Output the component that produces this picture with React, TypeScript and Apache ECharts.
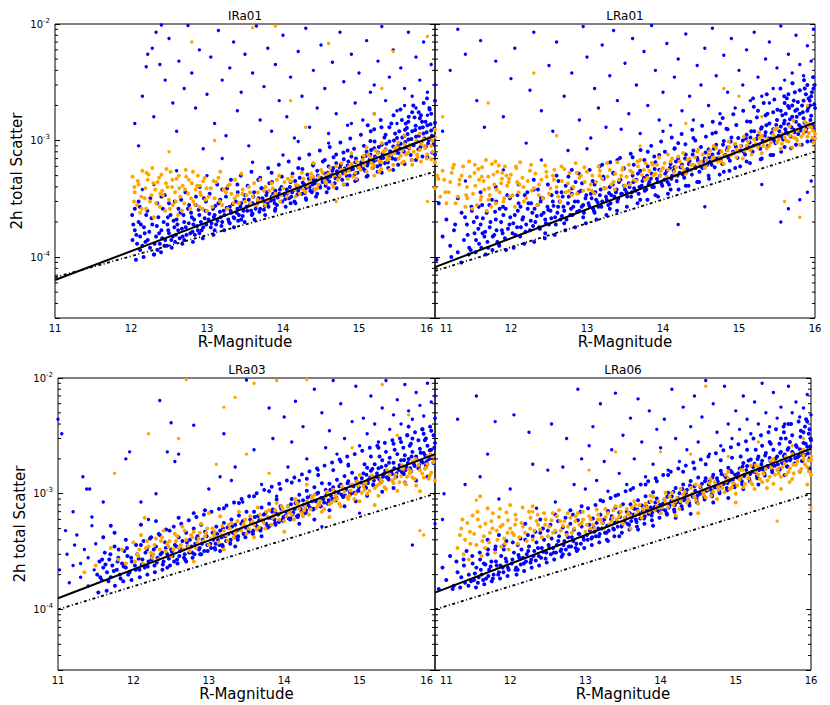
import React, { useEffect, useRef } from "react";
import * as echarts from "echarts";

// y values are in units of 1e-4; flat arrays of (R-magnitude, scatter) pairs
const IRa01_blue = [
12.02,1.4,12.05,1.7,12.08,1.3,12.1,2.0,12.12,1.5,12.15,1.25,12.17,1.8,12.2,2.3,12.05,2.6,12.12,1.15,12.18,1.6,12.22,1.4,12.25,1.2,12.28,1.9,12.3,1.05,12.1,3.0,12.03,1.9,
12.33,1.5,12.36,2.2,12.38,1.3,12.4,1.7,12.42,2.6,12.45,1.4,12.48,1.9,12.5,1.6,12.52,2.3,12.55,1.5,12.57,1.8,12.6,2.1,12.35,1.15,12.44,1.25,12.58,1.35,12.5,2.9,12.4,3.3,
12.62,1.7,12.65,2.4,12.68,1.5,12.7,2.0,12.72,1.8,12.75,2.6,12.78,1.6,12.8,2.2,12.82,1.9,12.85,2.8,12.88,1.7,12.9,2.3,12.92,2.0,12.95,1.8,12.98,2.5,12.7,1.4,12.84,1.55,12.96,3.2,12.66,3.1,12.9,1.6,
13.02,2.1,13.05,1.8,13.08,2.6,13.1,2.3,13.12,1.9,13.15,2.9,13.18,2.2,13.2,2.0,13.22,2.5,13.25,3.3,13.28,2.1,13.3,2.7,13.32,2.4,13.35,2.2,13.38,3.0,13.4,2.6,13.42,2.3,13.45,2.9,13.48,2.5,13.5,3.4,13.1,1.7,13.3,1.95,13.45,2.1,13.2,3.8,13.4,4.2,
13.52,2.7,13.55,3.1,13.58,2.5,13.6,2.9,13.62,3.6,13.65,2.8,13.68,3.2,13.7,2.6,13.72,3.9,13.75,3.0,13.78,3.4,13.8,2.9,13.82,4.3,13.85,3.3,13.88,3.1,13.9,3.7,13.92,2.8,13.95,3.5,13.98,4.0,13.6,2.35,13.75,2.55,13.9,2.6,13.7,4.8,13.85,5.3,
14.02,3.4,14.05,3.8,14.08,3.2,14.1,4.4,14.12,3.6,14.15,3.0,14.18,4.1,14.2,3.7,14.22,4.8,14.25,3.5,14.28,4.2,14.3,3.9,14.32,5.1,14.35,4.0,14.38,3.6,14.4,4.6,14.42,4.3,14.45,5.5,14.48,4.1,14.5,4.8,14.1,2.9,14.3,3.2,14.45,3.5,14.2,5.8,14.4,6.3,
14.52,4.4,14.55,5.2,14.58,4.7,14.6,6.0,14.62,4.9,14.65,5.5,14.68,4.3,14.7,6.4,14.72,5.1,14.75,5.8,14.78,4.6,14.8,6.9,14.82,5.4,14.85,6.1,14.88,5.0,14.9,7.3,14.92,5.7,14.95,6.5,14.98,5.3,14.6,3.9,14.8,4.2,14.95,4.5,14.7,7.6,14.85,8.2,14.55,6.8,
15.02,6.0,15.05,7.2,15.08,5.5,15.1,8.0,15.12,6.4,15.15,7.6,15.18,5.8,15.2,8.6,15.22,6.8,15.25,7.9,15.28,6.2,15.3,9.2,15.32,7.1,15.35,8.4,15.38,6.5,15.4,9.8,15.42,7.4,15.45,8.9,15.48,6.9,15.5,10.5,15.1,4.9,15.3,5.3,15.45,5.6,15.15,9.9,15.35,11.2,15.2,12.5,15.4,13,
15.52,7.8,15.55,9.4,15.58,8.2,15.6,11.0,15.62,8.8,15.65,10.2,15.68,7.5,15.7,12.0,15.72,9.1,15.75,10.8,15.78,8.4,15.8,12.8,15.82,9.6,15.85,11.5,15.88,8.9,15.9,13.5,15.92,10.1,15.95,12.2,15.98,9.3,16.0,14.2,16.02,10.6,16.05,12.9,15.6,6.3,15.75,6.8,15.9,7.2,16.0,7.6,15.65,14.5,15.8,15.5,15.95,17,16.05,19,15.7,17.5,15.85,21,16.0,22,
];
const IRa01_blue2 = [
12.07,1.55,12.13,1.9,12.19,1.35,12.24,1.65,12.27,2.15,12.31,1.3,12.34,1.85,12.37,1.6,12.41,1.45,12.43,2.0,12.47,1.25,12.49,1.7,12.53,1.4,12.56,2.05,12.59,1.55,12.61,1.9,12.64,1.45,12.67,1.75,12.69,2.3,12.73,1.55,12.76,1.95,12.79,2.4,12.81,1.65,12.83,2.1,12.87,1.85,12.89,2.55,12.93,1.7,12.97,2.15,12.99,1.9,
13.03,2.35,13.06,1.95,13.09,2.2,13.11,2.75,13.14,2.05,13.17,2.45,13.19,1.85,13.23,2.3,13.26,2.65,13.29,2.0,13.31,2.5,13.34,2.85,13.36,2.15,13.39,2.4,13.41,2.05,13.44,2.7,13.47,2.25,13.49,3.1,13.53,2.5,13.56,2.8,13.59,2.3,13.61,3.3,13.64,2.6,13.67,2.95,13.69,2.45,13.73,3.2,13.76,2.75,13.79,3.6,13.81,2.7,13.84,3.05,13.87,3.5,13.89,2.9,13.93,3.25,13.96,3.8,13.99,3.0,
14.03,3.15,14.06,3.55,14.09,4.0,14.11,3.3,14.14,3.75,14.16,4.5,14.19,3.45,14.23,3.95,14.26,4.35,14.29,3.55,14.31,4.05,14.34,4.7,14.36,3.7,14.39,4.2,14.41,3.8,14.44,4.55,14.46,5.0,14.49,3.95,14.53,4.6,14.56,4.1,14.59,5.3,14.61,4.45,14.64,5.05,14.66,5.8,14.69,4.75,14.71,5.45,14.74,4.9,14.76,6.2,14.79,5.25,14.81,5.75,14.84,4.95,14.86,6.6,14.89,5.6,14.91,6.0,14.94,5.1,14.96,7.0,14.99,5.9,
15.03,6.5,15.06,5.7,15.09,7.4,15.11,6.1,15.14,6.9,15.16,8.3,15.19,6.6,15.21,7.3,15.24,6.0,15.26,8.8,15.29,7.0,15.31,7.7,15.34,6.4,15.36,9.4,15.39,7.5,15.41,8.1,15.44,7.0,15.46,10.0,15.49,7.9,15.51,9.0,15.54,8.5,15.57,10.6,15.59,8.0,15.61,9.7,15.64,11.4,15.66,8.6,15.69,10.3,15.71,9.2,15.74,12.3,15.76,9.8,15.79,11.0,15.81,8.8,15.84,13.0,15.86,10.4,15.89,11.8,15.91,9.5,15.94,13.8,15.96,11.0,15.99,12.6,16.01,15.0,16.04,11.8,16.06,14.0,15.63,12.8,15.83,14.5,16.03,16.5,15.73,15.8,15.93,18.5,15.53,12.0,
];
const IRa01_blue3 = [
12.015,2.3,12.065,0.95,12.115,2.7,12.165,1.0,12.215,2.5,12.255,3.2,12.305,1.05,12.345,2.9,12.395,1.1,12.445,3.4,12.485,2.2,12.535,1.2,12.575,3.0,12.625,2.6,12.675,1.3,12.715,3.6,12.765,2.8,12.815,1.35,12.855,3.3,12.905,4.0,12.945,1.45,12.985,3.0,
13.035,3.5,13.085,1.55,13.135,4.2,13.175,3.1,13.225,1.7,13.265,3.9,13.315,4.6,13.355,1.8,13.405,3.6,13.445,5.0,13.495,2.0,13.535,4.1,13.585,5.4,13.625,2.1,13.675,4.6,13.715,3.9,13.765,2.3,13.805,5.8,13.855,4.4,13.895,2.5,13.945,6.2,13.985,4.9,
14.035,2.7,14.075,6.6,14.125,5.2,14.165,2.9,14.215,7.0,14.255,5.7,14.305,3.1,14.345,7.6,14.395,6.1,14.435,3.3,14.485,8.2,14.525,6.6,14.575,3.6,14.615,8.8,14.665,7.2,14.705,3.9,14.755,9.6,14.795,7.9,14.845,4.2,14.885,10.4,14.935,8.5,14.975,4.6,
15.025,11.2,15.065,9.0,15.115,5.0,15.155,12.0,15.205,9.8,15.245,5.4,15.295,13.0,15.335,10.6,15.385,5.8,15.425,14.0,15.475,11.5,15.515,6.2,15.565,15.0,15.605,12.4,15.655,16.0,15.695,6.8,15.745,13.4,15.785,17.5,15.835,7.3,15.875,14.5,15.925,19.0,15.965,7.9,16.015,16.0,16.055,20.5,15.545,18.5,15.715,20,15.895,23,16.035,25,15.615,14,15.815,16.5,15.455,16.5,15.285,15,15.115,13.5,
];
const IRa01_blueOut = [
12.05,14,12.1,9,12.15,24,12.2,43,12.22,55,12.28,62,12.3,16,12.33,85,12.38,45,12.4,98,12.45,33,12.5,75,12.55,21,12.6,12,12.63,48,12.7,28,12.75,97,12.8,38,12.85,19,12.9,60,12.95,8.5,13.0,25,13.05,52,13.1,14,13.15,88,13.2,33,13.25,11,13.3,42,13.35,70,13.4,18,13.45,26,13.5,55,13.55,9,13.6,38,13.65,96,13.7,15,13.75,29,13.8,62,13.85,12,13.9,45,13.95,22,14.0,80,14.05,16,14.1,35,14.15,10.5,14.2,58,14.25,24,14.3,92,14.35,13,14.4,40,14.45,19,14.5,66,14.55,28,14.6,11.5,14.65,47,14.7,17,14.75,85,14.8,32,14.85,13.5,14.9,55,14.95,21,15.0,38,15.05,15,15.1,72,15.15,26,15.2,17,15.25,48,15.3,95,15.35,22,15.4,35,15.45,60,15.5,18,15.55,42,15.6,28,15.65,85,15.7,24,15.75,52,15.8,33,15.85,70,15.9,26,15.95,45,16.0,30,16.05,60,15.5,14,15.6,20,15.75,19,15.9,16.5,14.2,9.8,14.0,7.5,13.6,6.5,13.2,7.0,12.6,5.5,12.3,4.2,12.15,3.8,13.0,5.0,14.6,9.5,16.02,95,15.2,30,14.9,14,
];
const IRa01_orange = [
12.02,4.9,12.05,3.6,12.08,2.8,12.1,4.2,12.12,2.4,12.15,5.5,12.18,3.2,12.2,2.6,12.22,4.6,12.25,3.0,12.28,5.8,12.3,2.2,12.32,3.8,12.35,4.4,12.38,2.7,12.4,5.1,12.42,3.4,12.45,2.5,12.48,4.0,12.5,3.1,12.52,5.4,12.55,2.8,12.58,3.6,12.6,4.7,12.62,2.3,12.65,3.3,12.68,4.1,12.7,2.9,12.72,5.6,12.75,3.5,12.78,2.6,12.8,4.3,12.82,3.0,12.85,3.8,12.88,5.0,12.9,2.7,12.92,3.4,12.95,4.5,12.98,3.1,13.0,2.5,13.05,3.9,13.1,3.2,13.15,4.8,13.2,2.8,13.25,3.6,13.3,4.2,13.35,2.9,13.4,3.4,13.45,5.2,13.5,3.0,13.55,4.0,13.6,3.3,13.65,2.8,13.7,4.6,13.75,3.7,13.8,3.1,13.85,4.3,13.9,3.5,13.95,5.0,14.0,3.9,14.05,3.3,14.1,4.5,14.15,3.8,14.2,4.1,14.25,5.3,14.3,3.6,14.35,4.4,14.4,4.9,14.45,3.9,14.5,5.6,14.55,4.5,14.6,5.2,14.65,4.2,14.7,6.0,14.75,5.0,14.8,5.6,14.85,4.7,14.9,6.3,14.95,5.3,15.0,5.9,15.05,6.8,15.1,5.4,15.15,7.2,15.2,6.1,15.25,7.8,15.3,6.5,15.35,8.3,15.4,7.0,15.45,6.2,15.5,8.8,15.55,7.4,15.6,9.3,15.65,7.9,15.7,6.8,15.75,9.8,15.8,8.3,15.85,10.2,15.9,7.6,15.95,9.0,16.0,10.8,16.05,8.4,16.05,11.5,15.95,6.9,15.8,11.5,16.0,12.4,15.6,11.0,15.3,9.5,14.9,7.8,15.1,8.7,14.4,6.4,14.8,4.2,15.2,5.0,15.7,6.2,16.0,6.5,15.4,5.6,
];
const IRa01_orange2 = [
12.04,3.0,12.09,4.5,12.14,2.6,12.19,3.9,12.23,5.1,12.27,3.4,12.33,2.9,12.37,4.8,12.41,3.7,12.46,4.3,12.51,2.6,12.54,4.0,12.59,3.0,12.63,5.0,12.67,2.5,12.71,3.8,12.76,4.6,12.79,3.2,12.84,2.8,12.87,4.1,12.91,3.6,12.94,2.6,12.97,4.8,13.02,3.3,13.07,2.7,13.12,4.4,13.17,3.0,13.22,3.8,13.27,2.6,13.32,3.5,13.37,4.6,13.42,2.9,13.47,3.8,13.52,3.4,13.57,2.9,13.62,4.3,13.67,3.6,13.72,3.0,13.77,4.0,13.82,3.7,13.87,3.3,13.92,4.6,13.97,3.4,14.02,4.4,14.07,3.6,14.12,4.9,14.17,4.2,14.22,3.5,14.27,4.7,14.32,4.1,14.37,5.2,14.42,3.8,14.47,4.9,14.52,5.3,14.57,4.3,14.62,5.8,14.67,5.0,14.72,4.6,14.77,6.4,14.82,5.2,14.87,6.0,14.92,4.9,14.97,6.6,15.02,5.6,15.07,6.2,15.12,7.6,15.17,5.8,15.22,7.0,15.27,6.6,15.32,8.0,15.37,6.8,15.42,7.6,15.47,8.6,15.52,7.0,15.57,8.2,15.62,7.6,15.67,9.2,15.72,8.0,15.77,7.2,15.82,9.4,15.87,8.6,15.92,10.5,15.97,8.0,16.02,9.4,16.06,10.0,15.89,7.0,15.59,6.6,15.29,5.7,
];
const IRa01_orange3 = [
12.045,4.0,12.135,3.3,12.205,5.3,12.295,4.3,12.385,3.5,12.465,5.7,12.545,4.6,12.635,3.9,12.725,4.9,12.815,5.4,12.905,4.1,12.995,3.9,13.085,4.5,13.175,5.4,13.275,4.1,13.365,3.2,13.465,3.5,13.565,3.6,13.665,3.1,13.765,2.8,13.865,3.9,13.965,3.0,14.065,4.7,14.165,3.3,14.265,3.8,14.365,4.8,14.465,4.2,14.565,5.0,14.665,4.0,14.765,5.6,14.865,5.5,14.965,4.7,15.065,7.4,15.165,6.4,15.265,5.4,15.365,7.4,15.465,7.8,15.565,6.4,15.665,8.7,15.765,7.6,15.865,9.0,15.965,10.0,16.045,9.2,15.815,6.6,15.515,9.6,15.215,8.2,
];
const IRa01_orangeOut = [12.8,70,13.6,93,13.9,96,14.6,68,15.2,17,15.45,58,14.3,13,13.1,10,12.5,8,15.9,78,16.05,55,15.9,3.0,14.7,3.0,15.3,28,14.1,22];
const IRa01_fit = [11, 0.635, 16, 11];
const IRa01_noise = [11, 0.67, 16, 5.4];

const LRa01_blue = [
11.02,0.95,11.1,1.5,11.15,2.1,11.2,1.25,11.25,1.7,11.3,1.1,11.35,2.4,11.38,1.4,11.42,1.9,11.45,1.2,11.48,2.7,11.05,2.9,11.3,3.2,
11.52,1.6,11.55,2.2,11.58,1.3,11.6,1.9,11.62,2.8,11.65,1.5,11.68,2.4,11.7,1.2,11.72,1.8,11.75,3.1,11.78,1.55,11.8,2.1,11.82,1.35,11.85,2.6,11.88,1.7,11.9,2.3,11.92,1.45,11.95,3.4,11.98,1.9,11.6,3.6,11.8,4.0,
12.02,1.6,12.05,2.3,12.08,1.8,12.1,2.9,12.12,1.5,12.15,2.1,12.18,3.4,12.2,1.9,12.22,2.6,12.25,1.7,12.28,2.4,12.3,3.8,12.32,2.0,12.35,2.8,12.38,1.75,12.4,2.3,12.42,3.2,12.45,2.1,12.48,2.7,12.5,1.9,12.3,4.6,12.1,4.2,12.45,1.6,
12.52,2.5,12.55,3.0,12.58,2.2,12.6,3.6,12.62,2.7,12.65,2.1,12.68,3.3,12.7,2.5,12.72,4.1,12.75,2.9,12.78,2.3,12.8,3.5,12.82,2.7,12.85,4.4,12.88,3.0,12.9,2.5,12.92,3.7,12.95,2.8,12.98,3.2,12.6,5.0,12.8,5.6,12.95,2.2,12.7,1.95,
13.02,2.9,13.05,3.5,13.08,2.6,13.1,4.2,13.12,3.1,13.15,2.7,13.18,3.8,13.2,3.0,13.22,4.7,13.25,3.3,13.28,2.8,13.3,4.0,13.32,3.4,13.35,5.2,13.38,3.6,13.4,3.0,13.42,4.4,13.45,3.5,13.48,5.7,13.5,3.8,13.2,6.2,13.4,6.8,13.1,2.4,13.3,2.6,
13.52,3.6,13.55,4.3,13.58,3.3,13.6,5.0,13.62,3.9,13.65,4.6,13.68,3.5,13.7,5.5,13.72,4.1,13.75,4.8,13.78,3.8,13.8,6.0,13.82,4.4,13.85,5.2,13.88,4.0,13.9,6.5,13.92,4.7,13.95,5.6,13.98,4.3,13.6,7.2,13.8,8.0,13.95,7.5,13.7,3.1,13.9,3.4,
14.02,4.6,14.05,5.5,14.08,4.2,14.1,6.3,14.12,5.0,14.15,5.9,14.18,4.5,14.2,7.0,14.22,5.3,14.25,6.2,14.28,4.8,14.3,7.6,14.32,5.7,14.35,6.7,14.38,5.1,14.4,8.2,14.42,6.0,14.45,7.1,14.48,5.4,14.5,8.8,14.1,3.8,14.3,4.1,14.45,4.4,14.2,9.5,14.4,10.5,14.15,8.5,
14.52,5.8,14.55,7.0,14.58,6.2,14.6,8.4,14.62,6.6,14.65,7.6,14.68,5.9,14.7,9.2,14.72,7.0,14.75,8.1,14.78,6.3,14.8,9.9,14.82,7.5,14.85,8.7,14.88,6.7,14.9,10.6,14.92,8.0,14.95,9.3,14.98,7.1,14.6,5.0,14.8,5.4,14.95,5.8,14.65,11.5,14.85,12.5,14.75,14,
15.02,8.2,15.05,10.0,15.08,7.6,15.1,11.2,15.12,8.8,15.15,10.6,15.18,8.0,15.2,12.0,15.22,9.3,15.25,11.0,15.28,8.5,15.3,13.0,15.32,9.8,15.35,11.8,15.38,9.0,15.4,14.0,15.42,10.4,15.45,12.5,15.48,9.5,15.5,15.0,15.1,6.6,15.3,7.0,15.45,7.5,15.15,14.5,15.35,16.5,15.25,18,15.45,17.5,
15.52,11.0,15.55,13.2,15.58,10.2,15.6,14.8,15.62,11.8,15.65,13.8,15.68,10.8,15.7,16.0,15.72,12.4,15.75,14.5,15.78,11.4,15.8,17.0,15.82,13.0,15.85,15.5,15.88,12.0,15.9,18.0,15.92,13.6,15.95,16.3,15.98,12.6,16.0,19.0,15.6,8.8,15.75,9.2,15.9,9.8,15.99,10.5,15.55,18,15.7,20,15.85,22,15.95,24,15.65,25,15.8,27,15.98,28,15.6,21,15.9,30,
];
const LRa01_blue2 = [
11.43,1.55,11.47,1.15,11.51,2.0,11.54,1.4,11.57,1.75,11.61,1.2,11.63,2.15,11.66,1.65,11.69,1.35,11.73,2.0,11.76,1.5,11.79,2.45,11.81,1.7,11.84,1.3,11.87,2.0,11.89,1.6,11.93,2.6,11.96,1.75,11.99,2.2,
12.03,1.95,12.06,1.55,12.09,2.5,12.13,1.8,12.16,2.2,12.19,1.65,12.23,2.9,12.26,2.05,12.29,1.85,12.31,2.6,12.34,2.25,12.37,1.8,12.39,3.0,12.43,2.4,12.46,1.95,12.49,2.55,12.53,2.15,12.56,2.75,12.59,1.9,12.61,2.4,12.64,3.0,12.67,2.25,12.69,2.7,12.73,2.1,12.76,3.3,12.79,2.6,12.81,2.3,12.84,3.0,12.87,2.45,12.89,3.6,12.93,2.7,12.96,2.4,12.99,3.4,
13.03,2.75,13.06,3.2,13.09,2.5,13.11,3.6,13.14,2.95,13.17,3.4,13.19,2.7,13.23,3.9,13.26,3.1,13.29,3.55,13.31,2.9,13.34,4.2,13.36,3.3,13.39,3.8,13.41,3.15,13.44,4.6,13.46,3.5,13.49,4.1,13.53,3.3,13.56,4.0,13.59,3.6,13.61,4.4,13.64,3.7,13.67,5.2,13.69,4.0,13.73,4.5,13.76,3.7,13.79,5.0,13.81,4.2,13.84,4.7,13.86,4.0,13.89,5.7,13.93,4.4,13.96,5.0,13.99,4.1,
14.03,5.2,14.06,4.4,14.09,5.8,14.11,4.7,14.14,5.5,14.17,6.6,14.19,5.0,14.23,5.9,14.26,5.1,14.29,7.0,14.31,5.4,14.34,6.3,14.37,5.6,14.39,7.6,14.43,5.8,14.46,6.7,14.49,6.0,14.53,6.6,14.56,7.9,14.59,6.4,14.61,7.2,14.64,6.2,14.67,8.5,14.69,7.0,14.73,7.8,14.76,6.8,14.79,9.2,14.81,7.4,14.84,8.3,14.86,7.1,14.89,9.8,14.93,7.8,14.96,8.8,14.99,10.5,
15.03,9.0,15.06,8.0,15.09,10.4,15.11,8.6,15.14,9.6,15.16,12.0,15.19,9.0,15.23,10.3,15.26,9.2,15.29,12.6,15.31,10.0,15.34,11.0,15.36,13.5,15.39,10.4,15.43,11.6,15.46,10.0,15.49,13.6,15.53,12.0,15.56,10.8,15.59,14.0,15.61,12.5,15.64,11.5,15.67,15.2,15.69,13.0,15.73,11.8,15.76,16.0,15.79,13.6,15.81,12.2,15.84,17.5,15.86,14.2,15.89,12.8,15.91,19.0,15.94,15.0,15.97,13.4,15.99,20.5,15.57,16.5,15.66,19,15.74,18,15.83,20,15.93,22,15.63,23,15.88,25,15.72,22,15.96,26,
];
const LRa01_blue3 = [
11.215,1.0,11.265,1.9,11.345,0.9,11.395,2.2,11.445,1.05,11.485,2.5,11.535,1.1,11.575,2.7,11.625,1.6,11.665,1.05,11.715,2.8,11.755,1.15,11.805,3.0,11.845,1.25,11.895,2.7,11.935,1.15,11.985,3.2,
12.035,1.2,12.085,3.4,12.125,2.7,12.175,1.3,12.215,3.6,12.265,2.9,12.305,1.35,12.355,3.8,12.395,3.2,12.445,1.45,12.485,4.2,12.535,3.4,12.575,1.55,12.625,4.5,12.665,3.6,12.715,1.7,12.755,4.9,12.805,3.9,12.845,1.8,12.895,5.2,12.935,4.3,12.985,1.95,
13.035,5.6,13.075,4.5,13.125,2.1,13.165,6.0,13.215,4.9,13.255,2.3,13.305,6.5,13.345,5.3,13.395,2.5,13.435,7.1,13.485,5.8,13.525,2.7,13.575,7.7,13.615,6.2,13.665,2.9,13.705,8.3,13.755,6.8,13.795,3.1,13.845,9.0,13.885,7.3,13.935,3.3,13.975,9.8,
14.025,8.0,14.065,3.5,14.115,10.6,14.155,8.6,14.205,3.8,14.245,11.4,14.295,9.3,14.335,4.1,14.385,12.4,14.425,10.0,14.475,4.4,14.515,13.4,14.565,10.8,14.605,4.7,14.655,14.5,14.695,11.7,14.745,5.1,14.785,15.6,14.835,12.6,14.875,5.5,14.925,16.8,14.965,13.6,
15.015,6.0,15.055,18.0,15.105,14.6,15.145,6.4,15.195,19.5,15.235,15.8,15.285,6.9,15.325,21.0,15.375,17.0,15.415,7.5,15.465,22.5,15.505,18.4,15.555,8.0,15.595,24.0,15.645,19.8,15.685,8.6,15.735,26.0,15.775,21.4,15.825,9.2,15.865,28.0,15.915,23.0,15.955,9.9,15.995,30.0,15.545,28,15.705,31,15.855,33,15.975,35,15.615,17,15.765,18.5,15.935,20,15.365,25,15.185,23,
];
const LRa01_blueOut = [
11.1,12,11.2,40,11.3,90,11.4,55,11.55,22,11.6,72,11.65,13,11.8,48,11.9,16,12.0,34,12.05,62,12.2,9.5,12.25,27,12.3,85,12.4,18,12.5,44,12.55,12,12.6,70,12.7,24,12.75,8.2,12.8,38,12.9,15,12.95,95,13.0,52,13.05,10.5,13.1,28,13.15,19,13.2,66,13.25,13,13.3,36,13.35,88,13.4,22,13.45,12.5,13.5,46,13.55,17,13.6,75,13.65,30,13.7,11.5,13.75,58,13.8,20,13.85,97,13.9,40,13.95,15,14.0,26,14.05,68,14.1,13.5,14.15,35,14.2,50,14.25,18,14.3,82,14.35,24,14.4,15,14.45,44,14.5,30,14.55,62,14.6,20,14.65,92,14.7,36,14.75,17,14.8,54,14.85,26,14.9,75,14.95,19,15.0,40,15.05,30,15.1,60,15.15,22,15.2,85,15.25,35,15.3,24,15.35,50,15.4,70,15.45,28,15.5,42,15.55,96,15.6,33,15.65,55,15.7,38,15.75,80,15.8,45,15.85,36,15.9,65,15.95,48,15.98,90,15.4,21,15.7,31,14.0,12,13.0,8.5,12.4,6.8,11.9,5.6,11.4,4.5,15.55,2.0,15.65,2.6,15.8,3.1,15.9,3.6,15.95,4.5,14.2,1.9,14.55,2.7,15.3,4.2,
];
const LRa01_orange = [
11.0,3.9,11.1,5.5,11.15,2.9,11.2,4.4,11.25,6.2,11.3,3.3,11.35,5.0,11.4,2.7,11.42,4.0,11.45,6.6,11.5,3.5,11.52,5.3,11.55,2.8,11.58,4.6,11.6,3.1,11.62,5.9,11.65,3.8,11.68,2.5,11.7,4.9,11.72,3.4,11.75,6.3,11.78,4.2,11.8,2.9,11.82,5.4,11.85,3.6,11.88,4.7,11.9,3.0,11.92,6.0,11.95,4.1,11.98,3.3,12.0,5.1,12.05,2.7,12.08,4.4,12.1,3.6,12.12,6.5,12.15,4.8,12.2,3.2,12.25,5.5,12.3,3.9,12.35,2.8,12.4,4.6,12.45,6.1,12.5,3.5,12.55,5.0,12.6,4.0,12.65,3.0,12.7,5.7,12.75,4.3,12.8,3.4,12.85,6.4,12.9,4.8,12.95,3.7,13.0,5.4,13.05,4.2,13.1,3.5,13.15,6.0,13.2,4.7,13.25,3.9,13.3,5.6,13.35,4.4,13.4,6.5,13.45,5.0,13.5,4.1,13.55,6.2,13.6,5.3,13.65,4.5,13.7,6.8,13.75,5.6,13.8,4.8,13.85,6.4,13.9,5.2,13.95,7.2,14.0,5.8,14.05,4.9,14.1,6.6,14.15,5.4,14.2,7.3,14.25,6.0,14.3,5.2,14.35,7.0,14.4,6.2,14.45,8.0,14.5,6.6,14.55,5.8,14.6,7.6,14.65,6.9,14.7,8.6,14.75,7.2,14.8,6.3,14.85,8.2,14.9,7.5,14.95,9.4,15.0,8.0,15.05,7.0,15.1,9.0,15.15,8.3,15.2,10.2,15.25,8.8,15.3,7.8,15.35,9.8,15.4,9.0,15.45,11.2,15.5,9.6,15.55,8.5,15.6,10.6,15.65,9.8,15.7,12.0,15.75,10.4,15.8,9.2,15.85,11.5,15.9,10.8,15.95,13.0,16.0,11.4,15.98,9.6,15.9,14.0,15.7,8.7,15.5,12.8,15.3,11.0,
];
const LRa01_orange2 = [
11.03,5.0,11.07,3.3,11.12,4.6,11.18,3.6,11.22,5.3,11.27,2.9,11.32,4.2,11.37,6.0,11.41,3.4,11.46,4.9,11.49,2.6,11.53,4.1,11.57,5.7,11.61,3.3,11.64,4.5,11.67,6.8,11.71,3.9,11.74,2.7,11.77,5.1,11.81,3.8,11.84,6.1,11.87,4.3,11.91,3.2,11.94,5.0,11.97,4.4,12.02,3.4,12.07,5.8,12.11,4.2,12.17,3.0,12.22,4.5,12.27,3.7,12.32,5.2,12.37,4.2,12.42,3.2,12.47,4.9,12.52,3.9,12.57,5.6,12.62,3.3,12.67,4.5,12.72,3.6,12.77,5.3,12.82,4.0,12.87,3.5,12.92,5.0,12.97,4.4,13.02,3.8,13.07,5.0,13.12,4.4,13.17,5.5,13.22,3.9,13.27,4.9,13.32,4.2,13.37,5.2,13.42,4.6,13.47,5.8,13.52,4.9,13.57,5.5,13.62,4.6,13.67,6.0,13.72,5.1,13.77,6.4,13.82,5.5,13.87,5.0,13.92,6.2,13.97,5.5,14.02,6.4,14.07,5.6,14.12,7.0,14.17,5.9,14.22,6.6,14.27,5.6,14.32,6.8,14.37,6.2,14.42,7.2,14.47,6.4,14.52,7.6,14.57,6.8,14.62,8.2,14.67,7.2,14.72,6.6,14.77,8.0,14.82,7.4,14.87,8.8,14.92,7.8,14.97,8.4,15.02,9.0,15.07,8.2,15.12,9.8,15.17,8.8,15.22,9.4,15.27,10.6,15.32,9.0,15.37,10.2,15.42,9.6,15.47,10.8,15.52,10.2,15.57,11.4,15.62,10.0,15.67,11.0,15.72,10.6,15.77,12.2,15.82,10.8,15.87,12.4,15.92,11.6,15.97,12.2,16.0,10.4,15.92,13.2,
];
const LRa01_orange3 = [
11.045,4.7,11.135,3.6,11.235,5.8,11.325,4.6,11.425,3.2,11.525,6.2,11.615,4.9,11.705,3.1,11.795,6.6,11.885,5.3,11.975,4.7,12.065,6.0,12.165,4.0,12.265,6.2,12.365,3.4,12.465,5.4,12.565,4.6,12.665,6.0,12.765,3.7,12.865,5.3,12.965,5.9,13.065,3.7,13.165,5.0,13.265,6.4,13.365,3.8,13.465,5.6,13.565,4.2,13.665,6.6,13.765,4.6,13.865,6.2,13.965,5.0,14.065,7.6,14.165,5.0,14.265,7.8,14.365,5.6,14.465,8.4,14.565,6.2,14.665,9.0,14.765,6.6,14.865,9.8,14.965,7.2,15.065,10.8,15.165,7.6,15.265,11.8,15.365,8.6,15.465,12.4,15.565,9.4,15.665,13.2,15.765,10.0,15.865,14.4,15.965,10.6,15.715,14.8,
];
const LRa01_orangeOut = [11.7,21,11.1,16,12.3,38,12.6,11,13.7,9,15.5,12.5,14.8,28,15.0,24,15.9,20,15.6,3.0,15.8,2.2,14.3,14,15.3,16];
const LRa01_fit = [11, 0.82, 16, 14.3];
const LRa01_noise = [11, 0.76, 16, 8.0];

const LRa03_blue = [
11.52,2.0,11.55,2.6,11.58,1.8,11.6,2.3,11.62,3.1,11.65,2.1,11.68,2.7,11.7,1.9,11.72,2.4,11.75,3.5,11.78,2.2,11.8,2.8,11.82,2.0,11.85,2.5,11.88,3.2,11.9,2.3,11.92,2.9,11.95,2.1,11.98,2.6,11.6,4.2,11.75,4.6,11.9,4.0,11.7,5.3,
12.02,2.4,12.05,3.0,12.08,2.2,12.1,3.6,12.12,2.7,12.15,2.3,12.18,3.3,12.2,2.6,12.22,4.1,12.25,2.9,12.28,2.4,12.3,3.5,12.32,2.8,12.35,4.4,12.38,3.1,12.4,2.6,12.42,3.8,12.45,3.0,12.48,4.8,12.5,3.3,12.1,5.4,12.3,5.8,12.45,2.3,
12.52,2.9,12.55,3.6,12.58,2.7,12.6,4.2,12.62,3.2,12.65,3.9,12.68,3.0,12.7,4.6,12.72,3.5,12.75,4.0,12.78,3.1,12.8,5.0,12.82,3.7,12.85,4.3,12.88,3.4,12.9,5.4,12.92,4.0,12.95,4.7,12.98,3.6,12.6,6.2,12.8,6.8,12.95,7.2,12.7,2.6,12.9,3.0,
13.02,3.7,13.05,4.6,13.08,3.4,13.1,5.2,13.12,4.0,13.15,4.8,13.18,3.6,13.2,5.6,13.22,4.3,13.25,5.1,13.28,3.9,13.3,6.0,13.32,4.6,13.35,5.4,13.38,4.2,13.4,6.5,13.42,4.9,13.45,5.8,13.48,4.5,13.5,7.0,13.2,7.5,13.4,8.3,13.15,3.2,13.35,3.5,
13.52,5.0,13.55,6.0,13.58,4.6,13.6,7.0,13.62,5.4,13.65,6.4,13.68,4.9,13.7,7.6,13.72,5.8,13.75,6.8,13.78,5.2,13.8,8.2,13.82,6.2,13.85,7.3,13.88,5.6,13.9,8.9,13.92,6.6,13.95,7.8,13.98,6.0,13.6,9.5,13.8,10.5,13.95,11.0,13.7,4.3,
14.02,6.5,14.05,7.8,14.08,6.0,14.1,9.0,14.12,6.9,14.15,8.3,14.18,6.3,14.2,9.8,14.22,7.4,14.25,8.8,14.28,6.8,14.3,10.6,14.32,8.0,14.35,9.5,14.38,7.3,14.4,11.4,14.42,8.6,14.45,10.2,14.48,7.8,14.5,12.3,14.2,5.5,14.4,6.0,14.1,12.5,14.3,13.5,14.45,14.5,
14.52,9.0,14.55,10.8,14.58,8.2,14.6,12.2,14.62,9.6,14.65,11.4,14.68,8.8,14.7,13.2,14.72,10.2,14.75,12.0,14.78,9.4,14.8,14.2,14.82,10.9,14.85,12.8,14.88,10.0,14.9,15.2,14.92,11.6,14.95,13.6,14.98,10.6,14.6,7.2,14.8,7.8,14.95,8.6,14.65,16,14.85,17.5,14.75,19,
15.02,12.5,15.05,15.0,15.08,11.4,15.1,16.8,15.12,13.2,15.15,15.8,15.18,12.0,15.2,18.0,15.22,14.0,15.25,16.6,15.28,12.8,15.3,19.5,15.32,14.8,15.35,17.5,15.38,13.6,15.4,20.5,15.42,15.6,15.45,18.5,15.48,14.4,15.5,22.0,15.1,9.6,15.3,10.4,15.45,11.2,15.15,21,15.35,23,15.25,25,15.45,27,
15.52,16.0,15.55,19.5,15.58,15.0,15.6,21.5,15.62,17.0,15.65,20.0,15.68,15.8,15.7,23.0,15.72,18.0,15.75,21.0,15.78,16.6,15.8,24.5,15.82,19.0,15.85,22.5,15.88,17.5,15.9,26.0,15.92,20.0,15.95,24.0,15.98,18.5,16.0,27.5,16.03,21.0,16.05,25.0,15.6,12.5,15.75,13.0,15.9,14.0,16.02,15.0,15.55,28,15.7,30,15.85,33,15.95,35,16.05,38,15.65,38,16.0,45,16.05,50,
];
const LRa03_blue2 = [
11.56,1.9,11.63,2.45,11.67,1.75,11.74,2.15,11.79,2.6,11.83,1.85,11.87,2.35,11.93,2.0,11.97,2.8,
12.03,2.2,12.07,2.75,12.11,2.45,12.16,3.1,12.19,2.35,12.24,2.7,12.27,3.3,12.31,2.55,12.36,3.0,12.39,2.45,12.43,3.4,12.47,2.75,12.51,3.15,12.54,2.6,12.57,3.5,12.61,2.9,12.64,3.3,12.67,2.8,12.71,3.8,12.74,3.1,12.77,3.5,12.81,3.0,12.84,4.1,12.87,3.3,12.91,3.7,12.94,3.2,12.97,4.3,
13.03,3.4,13.06,4.0,13.09,3.7,13.11,4.5,13.14,3.6,13.17,4.2,13.19,5.0,13.23,3.9,13.26,4.5,13.29,4.0,13.31,5.2,13.34,4.2,13.37,4.8,13.39,4.3,13.43,5.5,13.46,4.5,13.49,5.1,13.53,4.7,13.56,5.6,13.59,4.8,13.61,6.3,13.64,5.2,13.67,5.9,13.69,5.0,13.73,6.6,13.76,5.5,13.79,6.2,13.81,5.3,13.84,7.0,13.87,6.0,13.89,6.8,13.93,5.7,13.96,7.4,13.99,6.3,
14.03,7.0,14.06,6.1,14.09,8.1,14.11,6.6,14.14,7.4,14.17,6.4,14.19,8.6,14.23,7.0,14.26,8.0,14.29,7.2,14.31,9.3,14.34,7.6,14.37,8.6,14.39,7.4,14.43,10.0,14.46,8.2,14.49,9.2,14.53,8.4,14.56,9.8,14.59,8.8,14.61,10.8,14.64,9.0,14.67,10.4,14.69,9.3,14.73,11.6,14.76,9.8,14.79,11.0,14.81,9.6,14.84,12.3,14.87,10.4,14.89,11.8,14.93,10.2,14.96,12.8,14.99,11.4,
15.03,13.6,15.06,11.8,15.09,14.6,15.11,12.4,15.14,13.8,15.17,16.4,15.19,13.0,15.23,15.0,15.26,13.4,15.29,17.0,15.31,14.0,15.34,15.8,15.36,13.9,15.39,18.5,15.43,14.8,15.46,16.6,15.49,15.0,15.53,17.6,15.56,15.4,15.59,19.6,15.61,16.0,15.64,18.4,15.67,16.6,15.69,21.0,15.73,17.4,15.76,19.8,15.79,17.6,15.81,22.6,15.84,18.6,15.87,21.4,15.89,19.0,15.93,23.8,15.96,20.4,15.99,25.0,16.02,22.6,16.05,28,15.58,25,15.68,27,15.78,29,15.88,30,15.98,32,15.63,32,15.83,36,16.04,33,
];
const LRa03_blue3 = [
11.535,1.4,11.585,2.7,11.645,1.45,11.695,3.0,11.755,1.6,11.805,3.3,11.865,1.75,11.915,3.4,11.975,1.8,
12.035,3.6,12.085,1.9,12.135,3.9,12.185,2.0,12.235,4.2,12.285,2.1,12.335,4.5,12.385,2.2,12.435,4.9,12.485,2.4,12.535,5.2,12.585,2.5,12.635,5.5,12.685,2.7,12.735,5.9,12.785,2.8,12.835,6.3,12.885,3.0,12.935,6.6,12.985,3.2,
13.035,7.0,13.085,3.3,13.135,7.4,13.185,3.5,13.235,7.9,13.285,3.7,13.335,8.4,13.385,4.0,13.435,9.0,13.485,4.2,13.535,9.5,13.585,4.5,13.635,10.1,13.685,4.8,13.735,10.8,13.785,5.1,13.835,11.5,13.885,5.4,13.935,12.2,13.985,5.8,
14.035,13.0,14.085,6.1,14.135,13.8,14.185,6.5,14.235,14.7,14.285,6.9,14.335,15.6,14.385,7.4,14.435,16.5,14.485,7.8,14.535,17.5,14.585,8.3,14.635,18.6,14.685,8.8,14.735,19.8,14.785,9.4,14.835,21,14.885,10.0,14.935,22,14.985,10.6,
15.035,23.5,15.085,11.2,15.135,25,15.185,11.8,15.235,26,15.285,12.6,15.335,27.5,15.385,13.3,15.435,29,15.485,14.0,15.535,30,15.585,14.8,15.635,32,15.685,15.6,15.735,34,15.785,16.5,15.835,36,15.885,17.5,15.935,38,15.985,18.5,16.035,40,16.055,19.5,15.465,24,15.665,26,15.865,29,16.015,31,15.265,21,15.065,18,
];
const LRa03_blueOut = [
11.0,44,11.05,33,11.02,2.2,11.1,4.8,11.12,3.0,11.15,1.7,11.2,2.4,11.22,3.6,11.25,4.4,11.3,1.9,11.33,14,11.35,3.3,11.38,11,11.4,2.8,11.42,11,11.45,5.3,11.48,2.2,11.5,3.7,11.3,2.5,11.4,1.6,11.45,6.3,11.2,7.0,
11.6,8.5,11.9,20,11.95,23,12.1,8.5,12.2,6.0,12.3,10,12.35,64,12.5,41,12.45,23,12.55,19,12.6,22,12.8,39,13.0,11,13.15,14,13.2,33,13.3,13,13.35,17,13.45,8.5,13.5,96,13.6,24,13.7,12,13.8,55,13.85,30,13.9,9.5,14.0,46,14.05,17,14.1,28,14.15,63,14.2,13,14.25,38,14.3,20,14.4,80,14.45,16,14.5,50,14.55,25,14.6,35,14.65,95,14.7,22,14.75,60,14.8,30,14.85,18,14.9,42,14.95,85,15.0,26,15.05,45,15.1,33,15.15,70,15.2,40,15.25,28,15.3,55,15.35,95,15.4,36,15.45,48,15.5,65,15.55,40,15.6,88,15.65,52,15.7,44,15.75,75,15.8,58,15.85,47,15.9,90,15.95,62,16.0,70,16.05,80,15.7,3.6,15.0,6.8,14.5,5.2,
];
const LRa03_orange = [
11.35,2.1,11.5,2.4,11.7,3.4,11.8,2.7,11.85,3.3,11.9,2.5,12.0,3.8,12.05,3.0,12.1,4.4,12.15,6.2,12.2,3.5,12.25,2.8,12.3,4.1,12.35,3.3,12.4,4.8,12.45,3.7,12.5,2.9,12.55,4.5,12.6,3.4,12.65,5.2,12.7,4.0,12.75,3.2,12.8,4.7,12.85,3.8,12.9,5.5,12.95,4.3,13.0,3.6,13.05,5.0,13.1,4.2,13.15,6.4,13.2,4.8,13.25,3.9,13.3,5.6,13.35,4.6,13.4,7.0,13.45,5.3,13.5,4.5,13.55,6.4,13.6,5.4,13.65,7.6,13.7,6.0,13.75,5.0,13.8,7.2,13.85,6.2,13.9,8.3,13.95,6.8,14.0,5.8,14.05,7.8,14.1,6.6,14.15,9.0,14.2,7.4,14.25,6.4,14.3,8.6,14.35,7.3,14.4,9.8,14.45,8.2,14.5,7.0,14.55,9.4,14.6,8.1,14.65,10.8,14.7,9.0,14.75,7.8,14.8,10.4,14.85,9.0,14.9,12.0,14.95,10.0,15.0,8.6,15.05,11.6,15.1,10.0,15.15,13.4,15.2,11.2,15.25,9.6,15.3,12.8,15.35,11.0,15.4,14.6,15.45,12.4,15.5,10.6,15.55,14.2,15.6,12.4,15.65,16.2,15.7,13.8,15.75,11.8,15.8,16.0,15.85,13.8,15.9,18.0,15.95,15.2,16.0,13.0,16.05,17.5,16.05,20,15.9,21,15.7,19,14.0,4.7,13.6,4.2,13.2,3.3,12.8,2.6,14.6,6.3,15.2,8.0,15.8,10.5,13.0,6.8,14.3,12.0,15.0,14.5,
];
const LRa03_orange2 = [
12.02,2.6,12.08,3.3,12.13,2.5,12.18,3.9,12.23,3.1,12.28,3.6,12.33,2.7,12.38,4.2,12.43,3.2,12.48,3.9,12.53,3.3,12.58,4.3,12.63,3.6,12.68,4.8,12.73,3.5,12.78,4.2,12.83,3.4,12.88,4.6,12.93,3.9,12.98,5.0,13.03,4.1,13.08,4.7,13.13,3.8,13.18,5.3,13.23,4.4,13.28,5.0,13.33,4.2,13.38,5.8,13.43,4.8,13.48,6.0,13.53,5.0,13.58,5.8,13.63,4.9,13.68,6.6,13.73,5.6,13.78,6.3,13.83,5.4,13.88,7.2,13.93,6.0,13.98,7.4,14.03,6.4,14.08,7.1,14.13,6.0,14.18,8.2,14.23,6.8,14.28,7.7,14.33,6.6,14.38,8.9,14.43,7.6,14.48,8.6,14.53,7.4,14.58,9.9,14.63,8.4,14.68,9.6,14.73,8.2,14.78,11.0,14.83,9.4,14.88,10.6,14.93,9.0,14.98,11.8,15.03,10.2,15.08,12.4,15.13,10.6,15.18,13.8,15.23,11.8,15.28,13.2,15.33,11.4,15.38,15.2,15.43,13.0,15.48,14.6,15.53,12.6,15.58,16.4,15.63,14.0,15.68,15.6,15.73,13.4,15.78,17.6,15.83,15.0,15.88,16.8,15.93,14.4,15.98,18.8,16.03,16.2,16.06,14.0,15.94,22.0,15.74,20.0,
];
const LRa03_orange3 = [
12.065,2.9,12.165,3.4,12.265,3.0,12.365,3.9,12.465,3.5,12.565,3.9,12.665,3.3,12.765,4.4,12.865,4.1,12.965,4.6,13.065,4.4,13.165,4.4,13.265,5.4,13.365,4.9,13.465,5.5,13.565,5.6,13.665,5.1,13.765,7.0,13.865,6.6,13.965,7.8,14.065,6.9,14.165,8.4,14.265,7.2,14.365,9.4,14.465,8.0,14.565,10.4,14.665,8.8,14.765,11.6,14.865,9.6,14.965,12.8,15.065,10.8,15.165,14.4,15.265,12.2,15.365,16.0,15.465,13.6,15.565,17.6,15.665,15.0,15.765,19.4,15.865,16.4,15.965,21,16.045,18.5,15.615,12.0,15.915,13.5,
];
const LRa03_orangeOut = [11.75,15,12.2,33,12.6,30,12.7,97,13.2,56,13.35,68,13.6,90,13.9,95,14.3,97,15.3,88,15.65,48,15.8,4.8,15.85,4.4,13.1,18,13.5,22,14.9,25,15.5,32,13.8,15];
const LRa03_fit = [11, 1.25, 16, 22];
const LRa03_noise = [11, 1.0, 16, 10];

const LRa06_blue = [
11.05,1.5,11.1,2.3,11.15,1.8,11.2,2.9,11.25,1.6,11.3,2.1,11.35,1.9,11.38,2.7,11.4,1.7,11.42,3.2,11.45,2.0,11.48,1.75,11.5,2.5,
11.52,1.8,11.55,2.3,11.58,1.9,11.6,2.7,11.62,2.0,11.65,2.5,11.68,1.85,11.7,3.0,11.72,2.2,11.75,2.6,11.78,2.0,11.8,3.3,11.82,2.4,11.85,2.1,11.88,2.9,11.9,2.3,11.92,3.6,11.95,2.6,11.98,2.2,11.7,4.0,11.85,4.4,11.95,3.9,
12.02,2.5,12.05,3.1,12.08,2.3,12.1,3.6,12.12,2.8,12.15,3.3,12.18,2.5,12.2,4.0,12.22,3.0,12.25,3.5,12.28,2.7,12.3,4.3,12.32,3.2,12.35,3.8,12.38,2.9,12.4,4.6,12.42,3.4,12.45,4.0,12.48,3.1,12.5,4.8,12.2,5.5,12.4,6.0,12.1,2.2,
12.52,3.4,12.55,4.1,12.58,3.1,12.6,4.7,12.62,3.6,12.65,4.3,12.68,3.3,12.7,5.1,12.72,3.9,12.75,4.6,12.78,3.5,12.8,5.5,12.82,4.2,12.85,4.9,12.88,3.7,12.9,5.9,12.92,4.5,12.95,5.2,12.98,4.0,12.6,6.6,12.8,7.2,12.95,7.8,12.7,3.0,12.9,3.3,
13.02,4.4,13.05,5.4,13.08,4.1,13.1,6.1,13.12,4.7,13.15,5.6,13.18,4.3,13.2,6.6,13.22,5.0,13.25,6.0,13.28,4.6,13.3,7.1,13.32,5.4,13.35,6.4,13.38,4.9,13.4,7.6,13.42,5.8,13.45,6.9,13.48,5.2,13.5,8.1,13.2,8.8,13.4,9.6,13.3,3.9,13.45,4.3,
13.52,5.8,13.55,7.0,13.58,5.4,13.6,8.1,13.62,6.3,13.65,7.4,13.68,5.7,13.7,8.8,13.72,6.7,13.75,7.9,13.78,6.1,13.8,9.5,13.82,7.2,13.85,8.5,13.88,6.5,13.9,10.3,13.92,7.7,13.95,9.1,13.98,7.0,13.6,10.8,13.8,12,13.95,12.8,13.7,4.9,13.9,5.3,
14.02,7.4,14.05,8.9,14.08,6.8,14.1,10.2,14.12,7.9,14.15,9.5,14.18,7.3,14.2,11.2,14.22,8.5,14.25,10.1,14.28,7.8,14.3,12.0,14.32,9.1,14.35,10.8,14.38,8.3,14.4,12.9,14.42,9.7,14.45,11.6,14.48,8.9,14.5,13.8,14.1,14.5,14.3,15.5,14.45,16.5,14.2,6.2,14.4,6.7,
14.52,10.0,14.55,12.2,14.58,9.4,14.6,13.6,14.62,10.7,14.65,12.8,14.68,9.9,14.7,14.6,14.72,11.4,14.75,13.6,14.78,10.5,14.8,15.8,14.82,12.2,14.85,14.4,14.88,11.2,14.9,16.8,14.92,13.0,14.95,15.3,14.98,11.9,14.6,18,14.8,19.5,14.95,20.5,14.7,8.4,14.9,9.2,
15.02,13.8,15.05,16.5,15.08,12.8,15.1,18.4,15.12,14.6,15.15,17.4,15.18,13.5,15.2,19.8,15.22,15.5,15.25,18.2,15.28,14.2,15.3,21.0,15.32,16.4,15.35,19.3,15.38,15.0,15.4,22.5,15.42,17.4,15.45,20.4,15.48,16.0,15.5,24.0,15.15,24,15.35,26,15.45,28,15.1,11,15.3,12,
15.52,17.5,15.55,21.0,15.58,16.4,15.6,23.0,15.62,18.4,15.65,21.8,15.68,17.2,15.7,24.8,15.72,19.5,15.75,23.0,15.78,18.2,15.8,26.2,15.82,20.6,15.85,24.2,15.88,19.2,15.9,27.5,15.92,21.6,15.95,25.5,15.98,20.2,16.0,29.0,15.6,30,15.75,32,15.9,34,15.98,36,15.65,14.5,15.85,15.5,15.98,16.5,15.7,40,15.95,42,
];
const LRa06_blue2 = [
11.53,2.05,11.57,1.7,11.61,2.2,11.64,1.8,11.67,2.45,11.71,1.95,11.74,2.35,11.77,1.85,11.81,2.6,11.84,2.0,11.87,2.4,11.91,2.1,11.94,2.75,11.97,2.3,
12.03,2.7,12.07,2.2,12.11,2.95,12.14,2.45,12.17,2.8,12.21,2.6,12.24,3.2,12.27,2.55,12.31,2.9,12.34,2.65,12.37,3.4,12.41,2.8,12.44,3.15,12.47,2.75,12.51,3.6,12.54,3.0,12.57,3.4,12.61,3.1,12.64,3.9,12.67,3.2,12.71,3.6,12.74,3.3,12.77,4.2,12.81,3.5,12.84,3.9,12.87,3.4,12.91,4.5,12.94,3.7,12.97,4.2,
13.03,4.0,13.06,4.8,13.09,4.2,13.11,5.1,13.14,4.3,13.17,5.0,13.19,4.5,13.23,5.6,13.26,4.6,13.29,5.3,13.31,4.8,13.34,6.0,13.37,5.0,13.39,5.6,13.43,5.2,13.46,6.3,13.49,5.4,13.53,6.2,13.56,5.5,13.59,6.8,13.61,5.8,13.64,6.6,13.67,6.0,13.69,7.3,13.73,6.1,13.76,7.0,13.79,6.4,13.81,7.8,13.84,6.7,13.87,7.6,13.89,6.9,13.93,8.4,13.96,7.2,13.99,8.0,
14.03,8.2,14.06,7.2,14.09,9.4,14.11,7.6,14.14,8.6,14.17,10.4,14.19,8.0,14.23,9.2,14.26,8.4,14.29,11.0,14.31,8.8,14.34,10.0,14.37,8.8,14.39,11.8,14.43,9.4,14.46,10.6,14.49,9.6,14.53,11.4,14.56,10.0,14.59,12.8,14.61,10.6,14.64,12.0,14.67,10.8,14.69,13.8,14.73,11.4,14.76,12.8,14.79,11.6,14.81,14.8,14.84,12.2,14.87,13.8,14.89,12.4,14.93,15.8,14.96,13.2,14.99,14.6,
15.03,15.0,15.06,13.6,15.09,17.2,15.11,14.2,15.14,16.0,15.17,19.4,15.19,14.8,15.23,17.0,15.26,15.4,15.29,20.0,15.31,16.0,15.34,18.0,15.36,16.2,15.39,21.4,15.43,17.0,15.46,19.2,15.49,17.4,15.53,20.2,15.56,18.0,15.59,22.6,15.61,18.8,15.64,21.2,15.67,19.2,15.69,24.0,15.73,20.0,15.76,22.4,15.79,20.4,15.81,25.4,15.84,21.2,15.87,23.6,15.89,21.6,15.93,27.0,15.96,22.4,15.99,25.6,15.58,27,15.72,28,15.86,31,15.97,33,15.64,34,15.92,38,
];
const LRa06_blue3 = [
11.235,1.5,11.285,2.6,11.335,1.55,11.385,2.4,11.445,1.6,11.495,2.9,11.545,1.55,11.595,3.1,11.655,1.65,11.705,3.3,11.755,1.75,11.805,3.5,11.865,1.85,11.915,3.3,11.965,1.95,
12.035,3.8,12.085,2.0,12.135,4.1,12.185,2.15,12.235,4.4,12.285,2.3,12.335,4.7,12.385,2.4,12.435,5.0,12.485,2.55,12.535,5.4,12.585,2.7,12.635,5.8,12.685,2.85,12.735,6.2,12.785,3.0,12.835,6.6,12.885,3.2,12.935,7.0,12.985,3.4,
13.035,7.5,13.085,3.6,13.135,8.0,13.185,3.8,13.235,8.6,13.285,4.0,13.335,9.2,13.385,4.3,13.435,9.8,13.485,4.6,13.535,10.5,13.585,4.9,13.635,11.2,13.685,5.2,13.735,12.0,13.785,5.5,13.835,12.8,13.885,5.9,13.935,13.6,13.985,6.2,
14.035,14.5,14.085,6.6,14.135,15.5,14.185,7.0,14.235,16.5,14.285,7.4,14.335,17.5,14.385,7.9,14.435,18.6,14.485,8.4,14.535,19.8,14.585,8.9,14.635,21,14.685,9.5,14.735,22.4,14.785,10.1,14.835,23.8,14.885,10.7,14.935,25.2,14.985,11.4,
15.035,26.8,15.085,12.1,15.135,28.4,15.185,12.8,15.235,30,15.285,13.6,15.335,32,15.385,14.4,15.435,34,15.485,15.3,15.535,36,15.585,16.2,15.635,38,15.685,17.2,15.735,40,15.785,18.2,15.835,42,15.885,19.3,15.935,44,15.985,20.4,15.465,27,15.665,30,15.865,35,15.995,30,15.265,24,15.065,21,
];
const LRa06_blueOut = [
11.0,5.5,11.12,10,11.3,44,11.55,70,11.6,14,11.7,22,11.8,42,11.85,9,12.0,11,12.05,48,12.25,34,12.3,18,12.35,7.5,12.5,16,12.55,40,12.6,8.5,12.7,17,12.75,30,12.85,12,12.9,80,12.95,20,13.0,11,13.05,26,13.1,38,13.15,13,13.2,60,13.25,19,13.3,10.5,13.35,24,13.4,74,13.45,15,13.5,32,13.55,12,13.6,45,13.65,20,13.7,66,13.75,28,13.8,14,13.85,52,13.9,18,13.95,36,14.0,25,14.05,44,14.1,16,14.15,80,14.2,30,14.25,19,14.3,56,14.35,24,14.4,38,14.45,70,14.5,28,14.55,46,14.6,95,14.65,22,14.7,60,14.75,34,14.8,26,14.85,85,14.9,40,14.95,30,15.0,52,15.05,36,15.1,70,15.15,44,15.2,33,15.25,62,15.3,40,15.35,90,15.4,50,15.45,38,15.5,75,15.55,45,15.6,56,15.65,40,15.7,85,15.75,50,15.8,62,15.85,46,15.9,55,15.95,72,16.0,48,11.1,6,11.4,12,
];
const LRa06_orange = [
11.3,3.4,11.35,5.0,11.4,4.0,11.45,2.7,11.5,6.5,11.55,3.6,11.6,5.2,11.62,2.9,11.65,4.3,11.7,7.5,11.72,3.8,11.75,5.8,11.8,3.1,11.82,4.8,11.85,6.3,11.88,3.5,11.9,5.4,11.92,4.1,11.95,6.9,11.98,3.3,12.0,5.0,12.05,4.4,12.08,6.0,12.1,3.7,12.15,5.6,12.2,4.6,12.25,7.0,12.3,4.0,12.35,5.8,12.4,4.9,12.45,6.8,12.5,4.3,12.55,5.9,12.6,4.8,12.65,7.2,12.7,5.3,12.75,4.4,12.8,6.2,12.85,5.0,12.9,6.8,12.95,5.6,13.0,4.7,13.05,6.4,13.1,5.4,13.15,7.3,13.2,6.0,13.25,5.0,13.3,6.8,13.35,5.8,13.4,7.8,13.45,6.4,13.5,5.5,13.55,7.4,13.6,6.4,13.65,8.6,13.7,7.1,13.75,6.2,13.8,8.2,13.85,7.0,13.9,9.4,13.95,7.8,14.0,6.8,14.05,9.0,14.1,7.7,14.15,10.2,14.2,8.6,14.25,7.4,14.3,9.8,14.35,8.4,14.4,11.2,14.45,9.4,14.5,8.2,14.55,10.8,14.6,9.3,14.65,12.4,14.7,10.4,14.75,9.0,14.8,12.0,14.85,10.3,14.9,13.6,14.95,11.4,15.0,10.0,15.05,13.2,15.1,11.4,15.15,15.0,15.2,12.6,15.25,11.0,15.3,14.6,15.35,12.6,15.4,16.4,15.45,14.0,15.5,12.2,15.55,16.0,15.6,14.0,15.65,18.2,15.7,15.4,15.75,13.4,15.8,17.8,15.85,15.4,15.9,20.0,15.95,17.0,16.0,14.6,16.0,21,15.9,24,15.75,22,15.5,19,15.2,17.5,14.9,15.5,14.5,6.8,15.0,8.4,15.6,11.0,15.95,12.0,13.6,5.0,14.2,6.5,11.6,9.5,12.0,8.0,12.3,7.8,
];
const LRa06_orange2 = [
11.33,4.4,11.38,3.0,11.43,5.6,11.47,3.7,11.52,4.5,11.57,6.0,11.63,3.9,11.67,5.5,11.73,4.6,11.77,6.8,11.83,4.0,11.87,5.2,11.93,3.7,11.97,5.9,12.03,4.6,12.07,6.6,12.12,4.2,12.17,5.2,12.22,3.9,12.27,6.2,12.32,4.8,12.37,5.4,12.42,4.2,12.47,6.0,12.52,5.2,12.57,4.6,12.62,6.4,12.67,4.8,12.72,5.8,12.77,5.2,12.82,4.6,12.87,6.4,12.92,5.4,12.97,6.0,13.02,5.4,13.07,6.0,13.12,5.0,13.17,6.6,13.22,5.6,13.27,6.3,13.32,5.4,13.37,7.2,13.42,6.0,13.47,7.0,13.52,6.2,13.57,6.8,13.62,7.6,13.67,6.6,13.72,8.0,13.77,6.8,13.82,7.6,13.87,8.6,13.92,7.2,13.97,8.6,14.02,7.6,14.07,8.4,14.12,9.4,14.17,8.0,14.22,9.2,14.27,8.6,14.32,10.4,14.37,8.8,14.42,10.0,14.47,8.8,14.52,11.6,14.57,9.8,14.62,11.0,14.67,9.6,14.72,12.6,14.77,10.8,14.82,11.2,14.87,12.8,14.92,11.0,14.97,12.4,15.02,11.8,15.07,14.0,15.12,12.2,15.17,13.6,15.22,12.0,15.27,15.6,15.32,13.4,15.37,14.8,15.42,13.0,15.47,16.8,15.52,14.6,15.57,15.0,15.62,17.0,15.67,14.6,15.72,16.6,15.77,15.0,15.82,19.0,15.87,16.4,15.92,18.0,15.97,15.6,16.0,19.6,15.9,21.5,15.6,19.5,15.3,17.0,
];
const LRa06_orange3 = [
11.365,6.0,11.465,4.7,11.565,7.0,11.665,3.4,11.765,5.0,11.865,7.4,11.965,4.6,12.065,5.4,12.165,7.6,12.265,5.0,12.365,6.6,12.465,5.4,12.565,6.8,12.665,5.8,12.765,6.8,12.865,5.8,12.965,7.0,13.065,5.0,13.165,6.0,13.265,7.4,13.365,6.2,13.465,7.8,13.565,6.6,13.665,8.0,13.765,7.4,13.865,9.6,13.965,7.6,14.065,10.2,14.165,8.8,14.265,11.0,14.365,9.6,14.465,12.0,14.565,10.4,14.665,13.4,14.765,11.4,14.865,14.6,14.965,12.4,15.065,16.0,15.165,13.6,15.265,17.6,15.365,15.0,15.465,19.4,15.565,16.4,15.665,21,15.765,17.8,15.865,23,15.965,19.4,15.715,12.6,15.415,11.2,
];
const LRa06_orangeOut = [11.55,8.8,12.3,7.0,13.05,16,13.4,23,14.0,23,14.4,22,14.6,85,14.9,21,15.1,16,15.3,28,15.5,20,15.55,5.8,15.75,26,16.0,7.5,15.9,30];
const LRa06_fit = [11, 1.4, 16, 24.5];
const LRa06_noise = [11, 1.0, 16, 10];

const xTicks = [11, 12, 13, 14, 15, 16];
const minorTicks = [
  4e-5, 5e-5, 6e-5, 7e-5, 8e-5, 9e-5,
  2e-4, 3e-4, 4e-4, 5e-4, 6e-4, 7e-4, 8e-4, 9e-4,
  2e-3, 3e-3, 4e-3, 5e-3, 6e-3, 7e-3, 8e-3, 9e-3,
];

const panels = [
  { title: "IRa01", blueCore: [IRa01_blue, IRa01_blue2, IRa01_blue3], blueOut: IRa01_blueOut, orangeCore: [IRa01_orange, IRa01_orange2, IRa01_orange3], orangeOut: IRa01_orangeOut, fit: IRa01_fit, noise: IRa01_noise },
  { title: "LRa01", blueCore: [LRa01_blue, LRa01_blue2, LRa01_blue3], blueOut: LRa01_blueOut, orangeCore: [LRa01_orange, LRa01_orange2, LRa01_orange3], orangeOut: LRa01_orangeOut, fit: LRa01_fit, noise: LRa01_noise },
  { title: "LRa03", blueCore: [LRa03_blue, LRa03_blue2, LRa03_blue3], blueOut: LRa03_blueOut, orangeCore: [LRa03_orange, LRa03_orange2, LRa03_orange3], orangeOut: LRa03_orangeOut, fit: LRa03_fit, noise: LRa03_noise },
  { title: "LRa06", blueCore: [LRa06_blue, LRa06_blue2, LRa06_blue3], blueOut: LRa06_blueOut, orangeCore: [LRa06_orange, LRa06_orange2, LRa06_orange3], orangeOut: LRa06_orangeOut, fit: LRa06_fit, noise: LRa06_noise },
];

const FONT = "DejaVu Sans";
const BLUE = "#0000ff";
const ORANGE = "#ffa500";

function pairs(arrs: number[][]): number[][] {
  const out: number[][] = [];
  arrs.forEach((a) => {
    for (let i = 0; i + 1 < a.length; i += 2) out.push([a[i], a[i + 1] * 1e-4]);
  });
  return out;
}

const grids = [
  { left: 55, top: 24, width: 380, height: 294 },
  { left: 435, top: 24, width: 380, height: 294 },
  { left: 58, top: 378, width: 377, height: 292 },
  { left: 435, top: 378, width: 376, height: 292 },
];
const titlePos = [
  [245, 16],
  [625, 16],
  [247, 370],
  [623, 370],
];

function yLabel(v: number): string {
  const l = Math.log10(v);
  const e = Math.round(l);
  if (Math.abs(l - e) > 0.01) return "";
  return "{b|10}{s|" + e + "}";
}

function scatter(i: number, data: number[][], color: string, size: number) {
  return {
    type: "scatter",
    xAxisIndex: i,
    yAxisIndex: 2 * i,
    data,
    symbol: "circle",
    symbolSize: size,
    itemStyle: { color, opacity: 1 },
    silent: true,
  };
}

function buildOption() {
  const xAxis: any[] = [];
  const yAxis: any[] = [];
  const series: any[] = [];
  const tickFont = { fontFamily: FONT, fontSize: 10, color: "#000" };
  panels.forEach((p, i) => {
    const isLeft = i % 2 === 0;
    xAxis.push({
      type: "value",
      gridIndex: i,
      min: xTicks[0],
      max: xTicks[xTicks.length - 1],
      interval: 1,
      name: "R-Magnitude",
      nameLocation: "middle",
      nameGap: 16,
      nameTextStyle: { fontFamily: FONT, fontSize: 15, color: "#000" },
      axisLine: { show: false },
      axisTick: { show: false },
      splitLine: { show: false },
      axisLabel: {
        ...tickFont,
        margin: 5,
        alignMinLabel: isLeft ? "center" : "left",
        alignMaxLabel: isLeft ? "right" : "center",
        formatter: (v: number) => {
          if (isLeft && v === 16) return "{r|16}";
          if (!isLeft && v === 11) return "{l|11}";
          return String(v);
        },
        rich: {
          r: { ...tickFont, padding: [0, 2, 0, 0] },
          l: { ...tickFont, padding: [0, 0, 0, 5] },
        },
      },
    });
    const baseY = {
      type: "log",
      logBase: 10,
      gridIndex: i,
      min: 3e-5,
      max: 1e-2,
      splitLine: { show: false },
      axisLine: { show: false },
      axisTick: { show: true, inside: true, length: 5, lineStyle: { color: "#000", width: 1 } },
    };
    yAxis.push({
      ...baseY,
      position: "left",
      name: isLeft ? "2h total Scatter" : "",
      nameLocation: "middle",
      nameGap: 31,
      nameTextStyle: { fontFamily: FONT, fontSize: 15, color: "#000" },
      axisLabel: {
        show: isLeft,
        formatter: yLabel,
        margin: 5,
        rich: {
          b: { fontFamily: FONT, fontSize: 10, color: "#000", lineHeight: 14, verticalAlign: "middle" },
          s: { fontFamily: FONT, fontSize: 7, color: "#000", lineHeight: 7, verticalAlign: "top" },
        },
      },
    });
    yAxis.push({ ...baseY, position: "right", axisLabel: { show: false } });

    series.push(scatter(i, pairs(p.blueCore), BLUE, 4));
    series.push(scatter(i, pairs([p.blueOut]), BLUE, 3.4));
    series.push(scatter(i, pairs(p.orangeCore), ORANGE, 4));
    series.push(scatter(i, pairs([p.orangeOut]), ORANGE, 3.4));
    series.push({
      type: "line",
      xAxisIndex: i,
      yAxisIndex: 2 * i,
      data: pairs([p.noise]),
      symbol: "none",
      lineStyle: { color: "#000", width: 1.8, type: [3, 2.5, 1, 2.5] },
      silent: true,
    });
    series.push({
      type: "line",
      xAxisIndex: i,
      yAxisIndex: 2 * i,
      data: pairs([p.fit]),
      symbol: "none",
      lineStyle: { color: "#000", width: 2 },
      silent: true,
    });
    series.push({
      type: "custom",
      xAxisIndex: i,
      yAxisIndex: 2 * i,
      silent: true,
      clip: false,
      data: minorTicks.map((v) => [12, v]),
      renderItem: (params: any, api: any) => {
        const pt = api.coord([12, api.value(1)]);
        const cs = params.coordSys;
        const st = { stroke: "#000", lineWidth: 1 };
        return {
          type: "group",
          children: [
            { type: "line", shape: { x1: cs.x, y1: pt[1], x2: cs.x + 3, y2: pt[1] }, style: st },
            { type: "line", shape: { x1: cs.x + cs.width - 3, y1: pt[1], x2: cs.x + cs.width, y2: pt[1] }, style: st },
          ],
        };
      },
    });
  });

  return {
    animation: false,
    backgroundColor: "#fff",
    grid: grids.map((g) => ({ ...g, show: true, borderColor: "#000", borderWidth: 1, backgroundColor: "transparent", containLabel: false })),
    xAxis,
    yAxis,
    series,
    graphic: panels.map((p, i) => ({
      type: "text",
      x: titlePos[i][0],
      y: titlePos[i][1],
      style: { text: p.title, fontFamily: FONT, fontSize: 12, fill: "#000", align: "center", verticalAlign: "middle" },
    })),
  };
}

export default function App() {
  const ref = useRef<HTMLDivElement>(null);
  useEffect(() => {
    if (!ref.current) return;
    const chart = echarts.init(ref.current, null, { renderer: "svg" });
    chart.setOption(buildOption() as any);
    return () => chart.dispose();
  }, []);
  return <div ref={ref} style={{ position: "absolute", left: 0, top: 0, width: 830, height: 705 }} />;
}
